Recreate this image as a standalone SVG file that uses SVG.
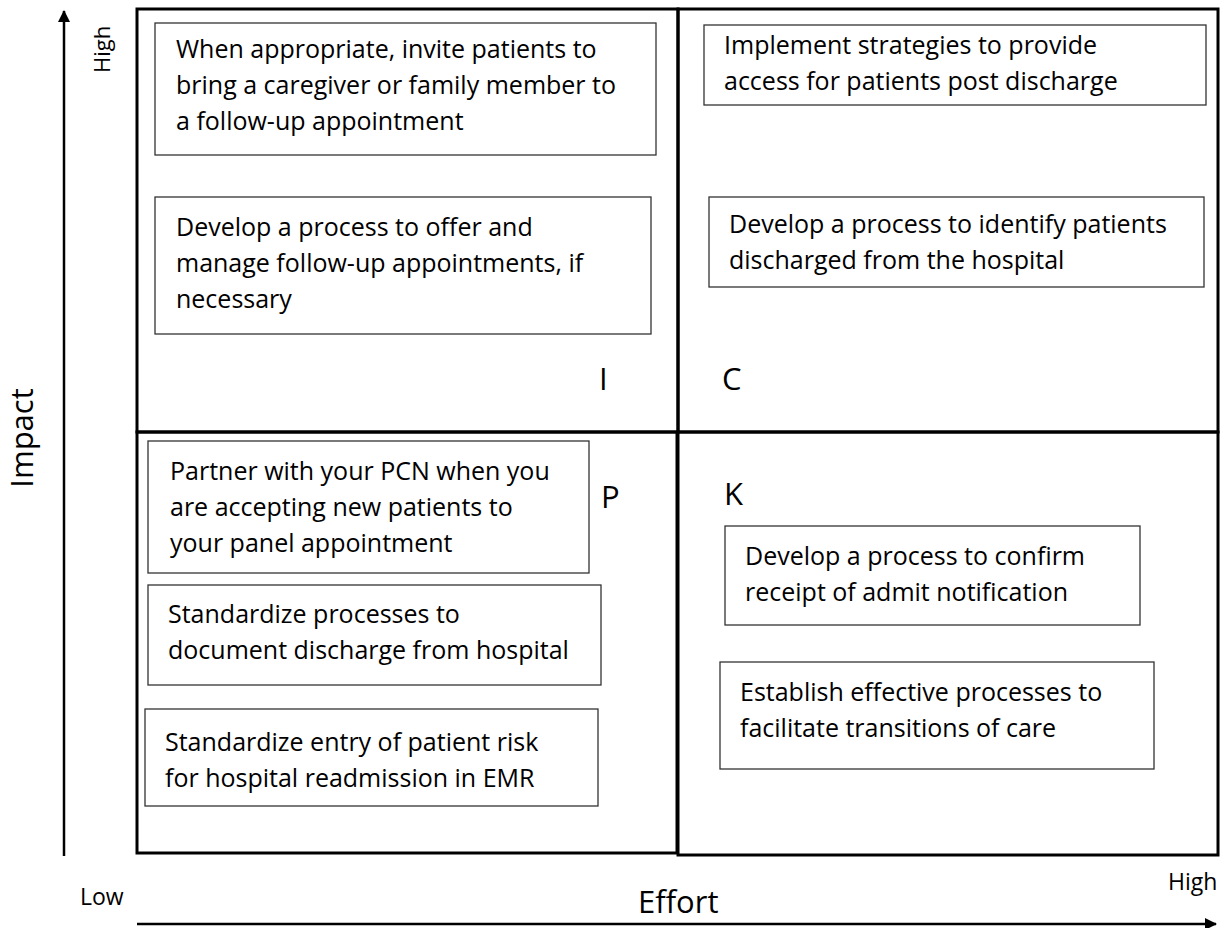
<svg xmlns="http://www.w3.org/2000/svg" width="1225" height="928" viewBox="0 0 1225 928">
<defs>
<style>
.frame{fill:none;stroke:#000;stroke-width:3}
.box{fill:#fff;stroke:#333;stroke-width:1.3}
.t{font-family:"Open Sans","Noto Sans",sans-serif;font-size:25px;fill:#000}
.q{font-family:"Open Sans","Noto Sans",sans-serif;font-size:31px;fill:#000}
.ax{font-family:"Open Sans","Noto Sans",sans-serif;fill:#000}
.axis{stroke:#000;stroke-width:2.5;fill:none}
</style>
<marker id="arr" viewBox="0 0 12 12" refX="11" refY="6" markerWidth="12" markerHeight="12" markerUnits="userSpaceOnUse" orient="auto">
<path d="M0,0 L12,6 L0,12 Z" fill="#000"/>
</marker>
</defs>
<rect width="1225" height="928" fill="#fff"/>
<g id="quadrants">
<rect class="frame" x="137" y="9" width="541" height="423"/>
<rect class="frame" x="678" y="9" width="540" height="423"/>
<rect class="frame" x="137" y="432" width="540" height="421"/>
<rect class="frame" x="678" y="432" width="540" height="423"/>
</g>
<g id="connectors">
<line class="axis" x1="64" y1="856" x2="64" y2="11" marker-end="url(#arr)"/>
<line class="axis" x1="137" y1="924" x2="1216" y2="924" marker-end="url(#arr)"/>
</g>
<g id="axis-labels">
<text class="ax" font-size="22" transform="translate(110,73) rotate(-90)">High</text>
<text class="ax" font-size="31" text-anchor="middle" transform="translate(33,438) rotate(-90)">Impact</text>
<text class="ax" font-size="23" x="80" y="905">Low</text>
<text class="ax" font-size="23" x="1168" y="890">High</text>
<text class="ax" font-size="31" x="638" y="913">Effort</text>
</g>
<g id="quadrant-letters">
<text class="q" x="599" y="390">I</text>
<text class="q" x="722" y="390">C</text>
<text class="q" x="601" y="508">P</text>
<text class="q" x="724" y="505">K</text>
</g>
<g id="node-a">
<rect class="box" x="155" y="23" width="501" height="132"/>
<text class="t" x="176" y="58">When appropriate, invite patients to</text>
<text class="t" x="176" y="94">bring a caregiver or family member to</text>
<text class="t" x="176" y="130">a follow-up appointment</text>
</g>
<g id="node-b">
<rect class="box" x="155" y="197" width="496" height="137"/>
<text class="t" x="176" y="236">Develop a process to offer and</text>
<text class="t" x="176" y="272">manage follow-up appointments, if</text>
<text class="t" x="176" y="308">necessary</text>
</g>
<g id="node-c">
<rect class="box" x="704" y="25" width="502" height="80"/>
<text class="t" x="724" y="54">Implement strategies to provide</text>
<text class="t" x="724" y="90">access for patients post discharge</text>
</g>
<g id="node-d">
<rect class="box" x="709" y="197" width="495" height="90"/>
<text class="t" x="729" y="233">Develop a process to identify patients</text>
<text class="t" x="729" y="269">discharged from the hospital</text>
</g>
<g id="node-e">
<rect class="box" x="148" y="441" width="441" height="132"/>
<text class="t" x="170" y="480">Partner with your PCN when you</text>
<text class="t" x="170" y="516">are accepting new patients to</text>
<text class="t" x="170" y="552">your panel appointment</text>
</g>
<g id="node-f">
<rect class="box" x="148" y="585" width="453" height="100"/>
<text class="t" x="168" y="623">Standardize processes to</text>
<text class="t" x="168" y="659">document discharge from hospital</text>
</g>
<g id="node-g">
<rect class="box" x="145" y="709" width="453" height="97"/>
<text class="t" x="165" y="751">Standardize entry of patient risk</text>
<text class="t" x="165" y="787">for hospital readmission in EMR</text>
</g>
<g id="node-h">
<rect class="box" x="725" y="526" width="415" height="99"/>
<text class="t" x="745" y="565">Develop a process to confirm</text>
<text class="t" x="745" y="601">receipt of admit notification</text>
</g>
<g id="node-i">
<rect class="box" x="720" y="662" width="434" height="107"/>
<text class="t" x="740" y="701">Establish effective processes to</text>
<text class="t" x="740" y="737">facilitate transitions of care</text>
</g>
</svg>
